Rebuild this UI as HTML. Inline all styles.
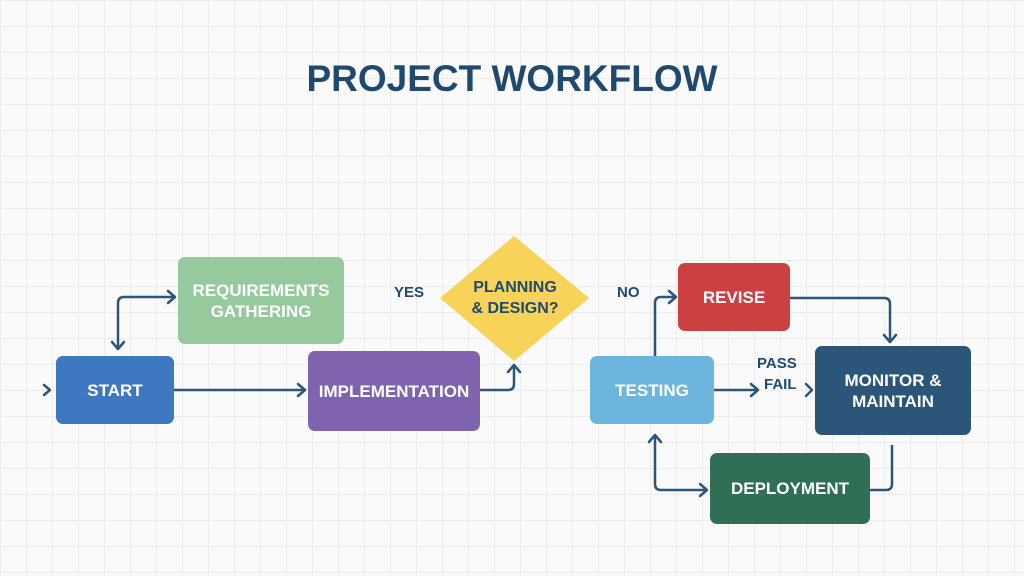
<!DOCTYPE html>
<html><head><style>
body{margin:0;width:1024px;height:576px;overflow:hidden;background:#fafafa;
background-image:linear-gradient(#ececec 1px,transparent 1px),linear-gradient(90deg,#ececec 1px,transparent 1px);background-size:26px 26px;
font-family:"Liberation Sans",sans-serif;position:relative}
.b{position:absolute;display:flex;align-items:center;justify-content:center;text-align:center;color:#fff;font-weight:bold;font-size:17px;border-radius:7px;line-height:21px}
.t{position:absolute;color:#1f4a6e;font-weight:bold;font-size:15px}
</style></head><body>
<div style="position:absolute;left:0;width:1024px;top:58px;text-align:center;font-size:37px;font-weight:bold;color:#1f4a6e">PROJECT WORKFLOW</div>
<svg width="1024" height="576" style="position:absolute;left:0;top:0">
<polygon points="514,236 589,298 514,361 440,298" fill="#f8d35a"/>
<g fill="none" stroke="#2c5578" stroke-width="2.5" stroke-linecap="round" stroke-linejoin="round">
<path d="M44,385 L50,390 L44,395"/>
<path d="M118,348 V303 Q118,297 124,297 H174"/><path d="M168,291 L175,297 L168,303"/><path d="M112,342 L118,349 L124,342"/>
<path d="M174,390 H305"/><path d="M298,384 L305,390 L298,396"/>
<path d="M480,390 H508 Q514,390 514,384 V366"/><path d="M508,372 L514,365 L520,372"/>
<path d="M655,356 V303 Q655,297 661,297 H675"/><path d="M669,291 L676,297 L669,303"/>
<path d="M790,298 H884 Q890,298 890,304 V341"/><path d="M884,335 L890,342 L896,335"/>
<path d="M714,390 H757"/><path d="M751,384 L758,390 L751,396"/>
<path d="M806,384 L812,390 L806,396"/>
<path d="M892,446 V484 Q892,490 886,490 H871"/>
<path d="M655,437 V484 Q655,490 661,490 H706"/><path d="M700,484 L707,490 L700,496"/><path d="M649,442 L655,435 L661,442"/>
</g></svg>
<div class="b" style="left:56px;top:356px;width:118px;height:68px;background:#3d78c0">START</div>
<div class="b" style="left:178px;top:257px;width:166px;height:87px;background:#96c99c">REQUIREMENTS<br>GATHERING</div>
<div class="b" style="left:308px;top:351px;width:172px;height:80px;background:#7f63ae">IMPLEMENTATION</div>
<div class="b" style="left:440px;top:268px;width:150px;height:60px;color:#1f4a6e;font-size:16px">PLANNING<br>&amp; DESIGN?</div>
<div class="b" style="left:678px;top:263px;width:112px;height:68px;background:#cc4042">REVISE</div>
<div class="b" style="left:590px;top:356px;width:124px;height:68px;background:#6cb5dc">TESTING</div>
<div class="b" style="left:815px;top:346px;width:156px;height:89px;background:#2b5579">MONITOR &amp;<br>MAINTAIN</div>
<div class="b" style="left:710px;top:453px;width:160px;height:71px;background:#2f6f55">DEPLOYMENT</div>
<div class="t" style="left:394px;top:284px">YES</div>
<div class="t" style="left:617px;top:284px">NO</div>
<div class="t" style="left:757px;top:355px">PASS</div>
<div class="t" style="left:764px;top:376px">FAIL</div>
</body></html>
